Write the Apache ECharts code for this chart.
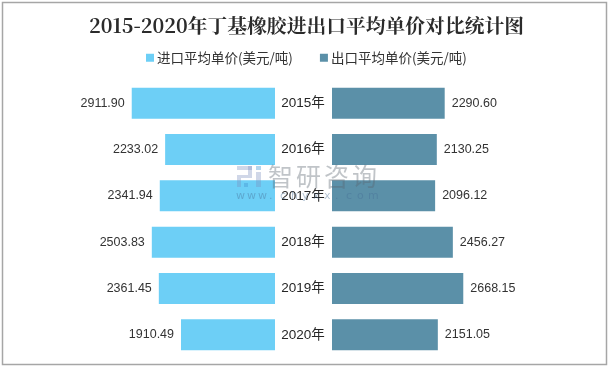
<!DOCTYPE html>
<html><head><meta charset="utf-8">
<style>html,body{margin:0;padding:0;background:#fff}#c{width:613px;height:369px}</style>
<script src="https://cdn.jsdelivr.net/npm/echarts@6/dist/echarts.min.js"></script>
</head><body><div id="c"></div>
<script>
var years = ['2015年','2016年','2017年','2018年','2019年','2020年'];
var importPrice = [2911.90,2233.02,2341.94,2503.83,2361.45,1910.49];
var exportPrice = [2290.60,2130.25,2096.12,2456.27,2668.15,2151.05];
var importName = '进口平均单价(美元/吨)';
var exportName = '出口平均单价(美元/吨)';
var titleText = '2015-2020年丁基橡胶进出口平均单价对比统计图';
var brandText = '智研咨询';
var urlText = 'www.chyxx.com';
var cjk = '"Liberation Sans","Noto Sans CJK SC",sans-serif';
var chart = echarts.init(document.getElementById('c'));
function lab(){return {show:true,position:'outside',distance:7,color:'#333',fontSize:12.5,fontFamily:'"Liberation Sans",sans-serif',formatter:function(p){return p.value.toFixed(2);}};}
var logoA='rgba(120,140,190,0.35)', logoB='rgba(70,150,210,0.4)';
var graphics=[
  {type:'rect',silent:true,shape:{x:2.5,y:2.5,width:604,height:362},style:{fill:'none',stroke:'#a6a6a6',lineWidth:1.5}},
  {type:'rect',silent:true,z:100,shape:{x:237,y:166,width:15,height:4},style:{fill:logoA}},
  {type:'rect',silent:true,z:100,shape:{x:248,y:166,width:4,height:12},style:{fill:logoA}},
  {type:'rect',silent:true,z:100,shape:{x:237,y:175,width:11,height:3},style:{fill:logoA}},
  {type:'rect',silent:true,z:100,shape:{x:237,y:178,width:4,height:9},style:{fill:logoA}},
  {type:'rect',silent:true,z:100,shape:{x:244,y:183,width:4,height:4},style:{fill:logoB}},
  {type:'rect',silent:true,z:100,shape:{x:256,y:166,width:5,height:4},style:{fill:logoB}},
  {type:'rect',silent:true,z:100,shape:{x:256,y:172,width:5,height:15},style:{fill:logoA}}
];
brandText.split('').forEach(function(ch,i){
  graphics.push({type:'text',silent:true,z:100,left:268+i*28,top:164,style:{text:ch,fontSize:25,fill:'rgba(90,100,110,0.38)',fontFamily:'"Noto Sans CJK SC",sans-serif'}});
});
urlText.split('').forEach(function(ch,i){
  graphics.push({type:'text',silent:true,z:100,left:236+i*11,top:191,style:{text:ch,fontSize:11,fill:'rgba(70,110,150,0.4)',fontFamily:'"DejaVu Sans",sans-serif'}});
});
chart.setOption({
  animation:false,
  title:{text:titleText,left:'center',top:16,padding:0,textStyle:{fontSize:19.8,fontWeight:'bold',color:'#2b2b2b',fontFamily:'"Noto Serif CJK SC","Liberation Serif","Noto Sans CJK SC",serif'}},
  legend:{top:51,left:146,padding:0,itemWidth:8,itemHeight:8,itemGap:27,icon:'rect',data:[importName,exportName],textStyle:{fontSize:13.5,color:'#333',padding:[0,0,0,-2],fontFamily:'"Noto Sans CJK SC",sans-serif'}},
  grid:[{left:127.4,width:147.6,top:80,height:278},{left:332,width:147.6,top:80,height:278}],
  xAxis:[{gridIndex:0,type:'value',inverse:true,min:0,max:3000,show:false},{gridIndex:1,type:'value',min:0,max:3000,show:false}],
  yAxis:[
    {gridIndex:0,type:'category',inverse:true,data:years,position:'right',axisLine:{show:false},axisTick:{show:false},axisLabel:{show:false}},
    {gridIndex:1,type:'category',inverse:true,data:years,position:'left',axisLine:{show:false},axisTick:{show:false},
     axisLabel:{show:true,margin:29,align:'center',color:'#262626',fontSize:13.5,fontFamily:cjk}}
  ],
  series:[
    {name:importName,type:'bar',xAxisIndex:0,yAxisIndex:0,data:importPrice,barWidth:31,itemStyle:{color:'#6dcff6'},label:lab()},
    {name:exportName,type:'bar',xAxisIndex:1,yAxisIndex:1,data:exportPrice,barWidth:31,itemStyle:{color:'#5b90a8'},label:lab()}
  ],
  graphic:graphics
});
</script></body></html>
